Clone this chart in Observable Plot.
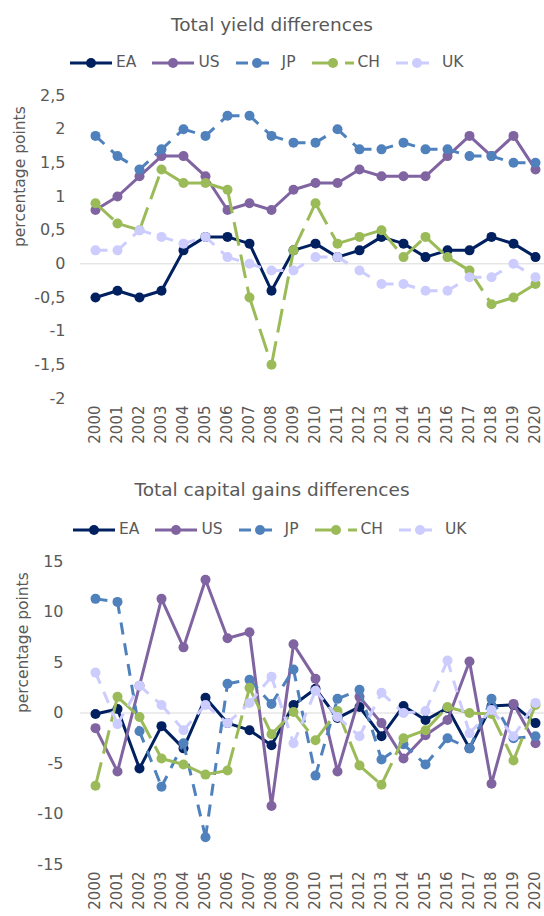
<!DOCTYPE html>
<html><head><meta charset="utf-8">
<script src="https://cdn.jsdelivr.net/npm/d3@7"></script>
<script src="https://cdn.jsdelivr.net/npm/@observablehq/plot@0.6"></script>
<style>
html,body{margin:0;padding:0;overflow:hidden;background:#fff;}
body{width:544px;height:916px;position:relative;font-family:"DejaVu Sans",sans-serif;color:#595959;}
.title{position:absolute;left:0;width:544px;text-align:center;font-size:18.5px;line-height:1;white-space:nowrap;}
.legend{position:absolute;display:flex;align-items:center;font-size:15.5px;line-height:1;height:16px;white-space:nowrap;}
.item{display:flex;align-items:center;margin-right:16px;}
.item svg{margin-right:4px;display:block;}
.chart{position:absolute;left:0;}
</style></head><body>
<script>
// ---------- data ----------
const years = [2000,2001,2002,2003,2004,2005,2006,2007,2008,2009,2010,2011,2012,2013,2014,2015,2016,2017,2018,2019,2020];
const seriesNames = ["EA","US","JP","CH","UK"];

// Total yield differences (percentage points)
const yieldEA = [-0.5,-0.4,-0.5,-0.4,0.2,0.4,0.4,0.3,-0.4,0.2,0.3,0.1,0.2,0.4,0.3,0.1,0.2,0.2,0.4,0.3,0.1];
const yieldUS = [0.8,1.0,1.3,1.6,1.6,1.3,0.8,0.9,0.8,1.1,1.2,1.2,1.4,1.3,1.3,1.3,1.6,1.9,1.6,1.9,1.4];
const yieldJP = [1.9,1.6,1.4,1.7,2.0,1.9,2.2,2.2,1.9,1.8,1.8,2.0,1.7,1.7,1.8,1.7,1.7,1.6,1.6,1.5,1.5];
const yieldCH = [0.9,0.6,0.5,1.4,1.2,1.2,1.1,-0.5,-1.5,0.2,0.9,0.3,0.4,0.5,0.1,0.4,0.1,-0.1,-0.6,-0.5,-0.3];
const yieldUK = [0.2,0.2,0.5,0.4,0.3,0.4,0.1,0.0,-0.1,-0.1,0.1,0.1,-0.1,-0.3,-0.3,-0.4,-0.4,-0.2,-0.2,0.0,-0.2];
const yieldTicks = [-2,-1.5,-1,-0.5,0,0.5,1,1.5,2,2.5];

// Total capital gains differences (percentage points)
const capEA = [-0.1,0.4,-5.5,-1.3,-3.5,1.5,-1.0,-1.7,-3.2,0.8,2.4,-0.5,0.6,-2.3,0.7,-0.7,0.5,-3.5,0.7,0.8,-1.0];
const capUS = [-1.5,-5.8,2.7,11.3,6.5,13.2,7.4,8.0,-9.2,6.8,3.4,-5.8,1.6,-1.0,-4.5,-2.2,-0.7,5.1,-7.0,0.9,-3.0];
const capJP = [11.3,11.0,-1.8,-7.3,-3.0,-12.3,2.9,3.3,0.9,4.3,-6.2,1.4,2.3,-4.6,-3.1,-5.1,-2.5,-3.5,1.4,-2.5,-2.3];
const capCH = [-7.2,1.6,-0.4,-4.5,-5.1,-6.1,-5.7,2.5,-2.1,0.1,-2.7,0.2,-5.2,-7.1,-2.5,-1.7,0.6,0.0,-0.1,-4.7,0.8];
const capUK = [4.0,-1.1,2.7,0.8,-1.7,0.8,-1.0,1.0,3.6,-3.0,2.2,-0.4,-2.3,2.0,0.0,0.2,5.2,-2.0,0.3,-2.3,1.0];
const capTicks = [-15,-10,-5,0,5,10,15];

const title1 = "Total yield differences";
const title2 = "Total capital gains differences";
const yLabel = "percentage points";

// ---------- styles ----------
const colors = ["#002060","#8064A2","#4F81BD","#9BBB59","#CCCCFF"];
const dashes = [null,null,"12,9","24,9","12,9"];
const FONT = "DejaVu Sans";
const TEXT = "#595959";

function addTitle(text, top){
  const d = document.createElement("div");
  d.className = "title"; d.style.top = top + "px"; d.textContent = text;
  document.body.appendChild(d);
}
function addLegend(left, top){
  const L = document.createElement("div");
  L.className = "legend"; L.style.left = left + "px"; L.style.top = top + "px";
  seriesNames.forEach((name, i) => {
    const it = document.createElement("div"); it.className = "item";
    const ns = "http://www.w3.org/2000/svg";
    const svg = document.createElementNS(ns, "svg");
    svg.setAttribute("width", 42); svg.setAttribute("height", 12);
    const ln = document.createElementNS(ns, "line");
    ln.setAttribute("x1", 0); ln.setAttribute("x2", 42); ln.setAttribute("y1", 6); ln.setAttribute("y2", 6);
    ln.setAttribute("stroke", colors[i]); ln.setAttribute("stroke-width", 3);
    if (dashes[i]) ln.setAttribute("stroke-dasharray", dashes[i]);
    const c = document.createElementNS(ns, "circle");
    c.setAttribute("cx", 21); c.setAttribute("cy", 6); c.setAttribute("r", 5); c.setAttribute("fill", colors[i]);
    svg.appendChild(ln); svg.appendChild(c);
    const t = document.createElement("span"); t.textContent = name;
    it.appendChild(svg); it.appendChild(t);
    L.appendChild(it);
  });
  document.body.appendChild(L);
}

function makeChart(seriesVals, domain, ticks, fmt, top, tickPad, labelDx){
  const marks = [Plot.ruleY([0], {stroke: "#D9D9D9", strokeWidth: 1})];
  seriesVals.forEach((vals, i) => {
    const pts = years.map((yr, j) => ({year: yr, v: vals[j]}));
    if (dashes[i]) {
      const segs = years.slice(0, -1).map((yr, j) => ({x1: yr, y1: vals[j], x2: years[j+1], y2: vals[j+1]}));
      marks.push(Plot.link(segs, {x1: "x1", y1: "y1", x2: "x2", y2: "y2", stroke: colors[i], strokeWidth: 3, strokeDasharray: dashes[i], strokeLinecap: "butt"}));
    } else {
      marks.push(Plot.line(pts, {x: "year", y: "v", stroke: colors[i], strokeWidth: 3, strokeLinejoin: "round", strokeLinecap: "round"}));
    }
    marks.push(Plot.dot(pts, {x: "year", y: "v", r: 5, fill: colors[i], stroke: "none"}));
  });
  marks.push(Plot.axisY({ticks: ticks, tickFormat: fmt, tickSize: 0, tickPadding: tickPad, label: null, fontSize: 16}));
  marks.push(Plot.axisX({tickRotate: -90, tickSize: 0, tickPadding: 7, tickFormat: d => String(d), label: null, fontSize: 15}));
  marks.push(Plot.text([yLabel], {text: d => d, frameAnchor: "left", dx: labelDx, rotate: -90, fontSize: 15.5, fill: TEXT}));
  const svg = Plot.plot({
    width: 544, height: 375,
    marginLeft: 80, marginRight: 0, marginTop: 15, marginBottom: 57,
    style: {fontFamily: FONT, fontSize: "16px", color: TEXT, background: "transparent", overflow: "visible"},
    x: {type: "point", domain: years, range: [91.5, 537.5], padding: 0},
    y: {domain: domain},
    marks
  });
  svg.classList.add("chart");
  svg.style.position = "absolute"; svg.style.left = "0px"; svg.style.top = top + "px";
  document.body.appendChild(svg);
}

addTitle(title1, 16);
addLegend(70, 55);
makeChart([yieldEA, yieldUS, yieldJP, yieldCH, yieldUK], [-2, 2.5], yieldTicks, d => String(d).replace(".", ","), 80, 15, -60);

addTitle(title2, 481);
addLegend(73, 522);
makeChart([capEA, capUS, capJP, capCH, capUK], [-15, 15], capTicks, d => String(d), 546, 17, -57);
</script>
</body></html>
